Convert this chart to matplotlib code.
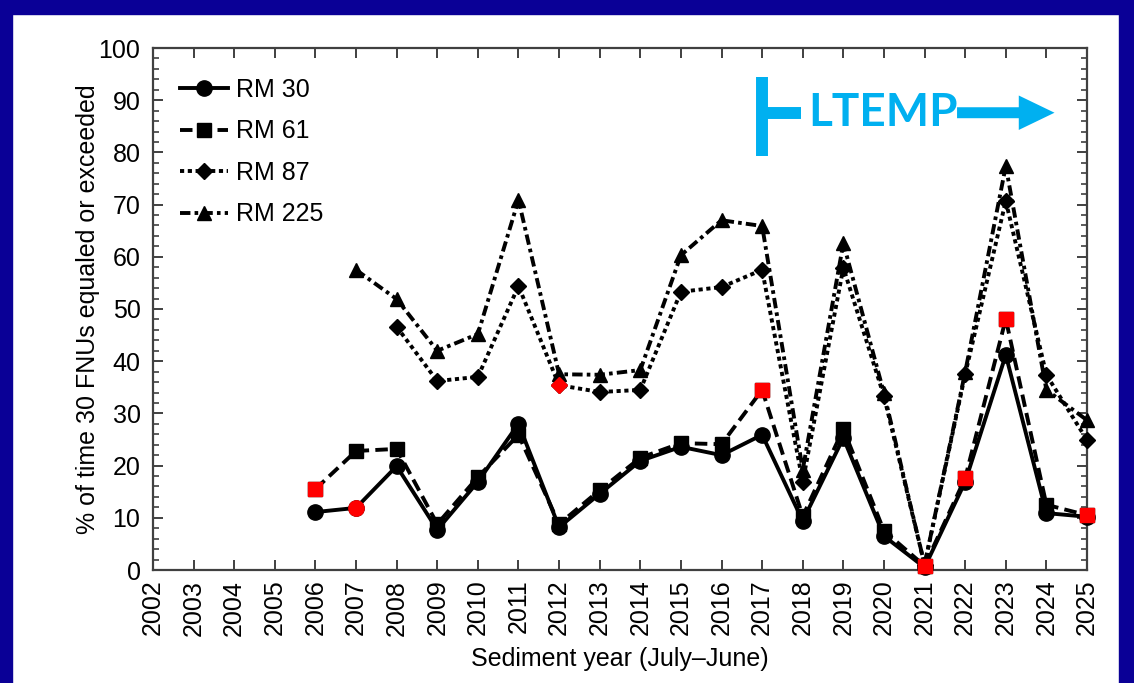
import matplotlib
matplotlib.use("Agg")
import matplotlib.pyplot as plt
from matplotlib.patches import Rectangle, FancyArrow
from matplotlib.ticker import MultipleLocator
import numpy as np

plt.rcParams["font.family"] = ["Liberation Sans", "DejaVu Sans"]
plt.rcParams["lines.scale_dashes"] = False

# Sediment years (July-June)
years = list(range(2002, 2026))

# Percent of time turbidity was 30 FNU or greater, by river mile
rm30_years = list(range(2006, 2026))
rm30 = [11.1, 11.9, 19.9, 7.7, 16.9, 28.0, 8.2, 14.6, 20.9, 23.6,
        22.0, 25.9, 9.4, 25.3, 6.5, 0.5, 16.9, 41.2, 10.9, 10.2]

rm61_years = list(range(2006, 2026))
rm61 = [15.5, 22.8, 23.2, 8.8, 17.8, 25.9, 8.8, 15.3, 21.5, 24.3,
        24.1, 34.5, 10.3, 27.0, 7.5, 0.8, 17.6, 48.1, 12.5, 10.5]

rm87_years = list(range(2008, 2026))
rm87 = [46.6, 36.2, 37.0, 54.4, 35.4, 34.1, 34.5, 53.3, 54.2, 57.5,
        16.9, 57.9, 33.3, 1.0, 37.5, 70.7, 37.4, 24.9]

rm225_years = list(range(2007, 2026))
rm225 = [57.5, 51.9, 42.0, 45.2, 70.9, 37.5, 37.4, 38.3, 60.3, 67.0,
         65.9, 19.2, 62.6, 33.9, 1.0, 37.9, 77.4, 34.5, 28.7]

# Years flagged in red for each site
rm30_flagged = [2007]
rm61_flagged = [2006, 2017, 2021, 2022, 2023, 2025]
rm87_flagged = [2012]
rm225_flagged = []

labels = ["RM 30", "RM 61", "RM 87", "RM 225"]

series = [
    (rm30_years, rm30, rm30_flagged, "o", 11, "-", None),
    (rm61_years, rm61, rm61_flagged, "s", 10.5, "--", (9, 4.5)),
    (rm87_years, rm87, rm87_flagged, "D", 8.5, ":", (3, 2.6)),
    (rm225_years, rm225, rm225_flagged, "^", 10, "-.", (7.5, 3, 2.6, 3)),
]

fig = plt.figure(figsize=(11.34, 6.83), dpi=100)
fig.patch.set_facecolor("white")

# dark blue slide frame
frame_col = "#0A0096"
fig.patches.append(Rectangle((0, 0), 12 / 1134, 1, transform=fig.transFigure,
                             color=frame_col, zorder=-10))
fig.patches.append(Rectangle((0, 1 - 14 / 683), 1, 14 / 683, transform=fig.transFigure,
                             color=frame_col, zorder=-10))
fig.patches.append(Rectangle((1 - 15 / 1134, 0), 15 / 1134, 1, transform=fig.transFigure,
                             color=frame_col, zorder=-10))

ax = fig.add_axes([153 / 1134, 1 - 570 / 683, (1087 - 153) / 1134, (570 - 48) / 683])

handles = []
for (xs, ys, flagged, mk, ms, ls, dash), lab in zip(series, labels):
    kw = dict(color="black", lw=2.8, marker=mk, markersize=ms,
              markerfacecolor="black", markeredgecolor="black", label=lab,
              clip_on=False, zorder=3)
    line, = ax.plot(xs, ys, ls, **kw)
    if dash is not None:
        line.set_dashes(dash)
    handles.append(line)
    fx = [x for x in xs if x in flagged]
    fy = [ys[xs.index(x)] for x in fx]
    if fx:
        ax.plot(fx, fy, linestyle="none", marker=mk, markersize=ms,
                markerfacecolor="#FF0000", markeredgecolor="#FF0000",
                zorder=5, clip_on=False)

ax.set_xlim(2002, 2025)
ax.set_ylim(0, 100)
ax.set_xticks(years)
ax.set_xticklabels([str(y) for y in years], rotation=90)
ax.yaxis.set_major_locator(MultipleLocator(10))
ax.yaxis.set_minor_locator(MultipleLocator(2))

spine_col = "#404040"
for sp in ax.spines.values():
    sp.set_color(spine_col)
    sp.set_linewidth(1.6)
ax.tick_params(axis="both", which="both", direction="in", color=spine_col,
               top=True, right=True, labelsize=18, labelcolor="black")
ax.tick_params(axis="both", which="major", length=7, width=1.4)
ax.tick_params(axis="y", which="minor", length=4, width=1.2)
ax.tick_params(axis="x", which="major", pad=7)
ax.tick_params(axis="y", which="major", pad=9)

ax.set_xlabel("Sediment year (July\u2013June)", fontsize=18)
ax.set_ylabel("% of time 30 FNUs equaled or exceeded", fontsize=18)
ax.xaxis.set_label_coords(0.5, -0.147)
ax.yaxis.set_label_coords(-0.057, 0.5)

leg = ax.legend(handles=handles, loc="upper left", bbox_to_anchor=(0.029, 0.943),
                frameon=False, fontsize=18, handlelength=1.9, handletextpad=0.35,
                labelspacing=0.7, borderpad=0, borderaxespad=0)

# LTEMP period marker
cyan = "#00B0F0"
ax.plot([2017.0, 2017.0], [79.4, 94.4], color=cyan, lw=8.6,
        solid_capstyle="butt", clip_on=False, zorder=6)
ax.plot([2017.0, 2017.95], [87.6, 87.6], color=cyan, lw=8.6,
        solid_capstyle="butt", clip_on=False, zorder=6)
ax.text(2019.98, 87.6, "LTEMP", color=cyan, fontsize=33, fontweight="bold",
        family=["Lato", "DejaVu Sans"], ha="center", va="center", zorder=6)
ax.add_patch(FancyArrow(2021.8, 87.6, 2024.2 - 2021.8, 0, width=2.1,
                        head_width=6.6, head_length=0.88,
                        length_includes_head=True, color=cyan, lw=0,
                        clip_on=False, zorder=6))

fig.savefig("out.png", dpi=100, facecolor=fig.get_facecolor())
